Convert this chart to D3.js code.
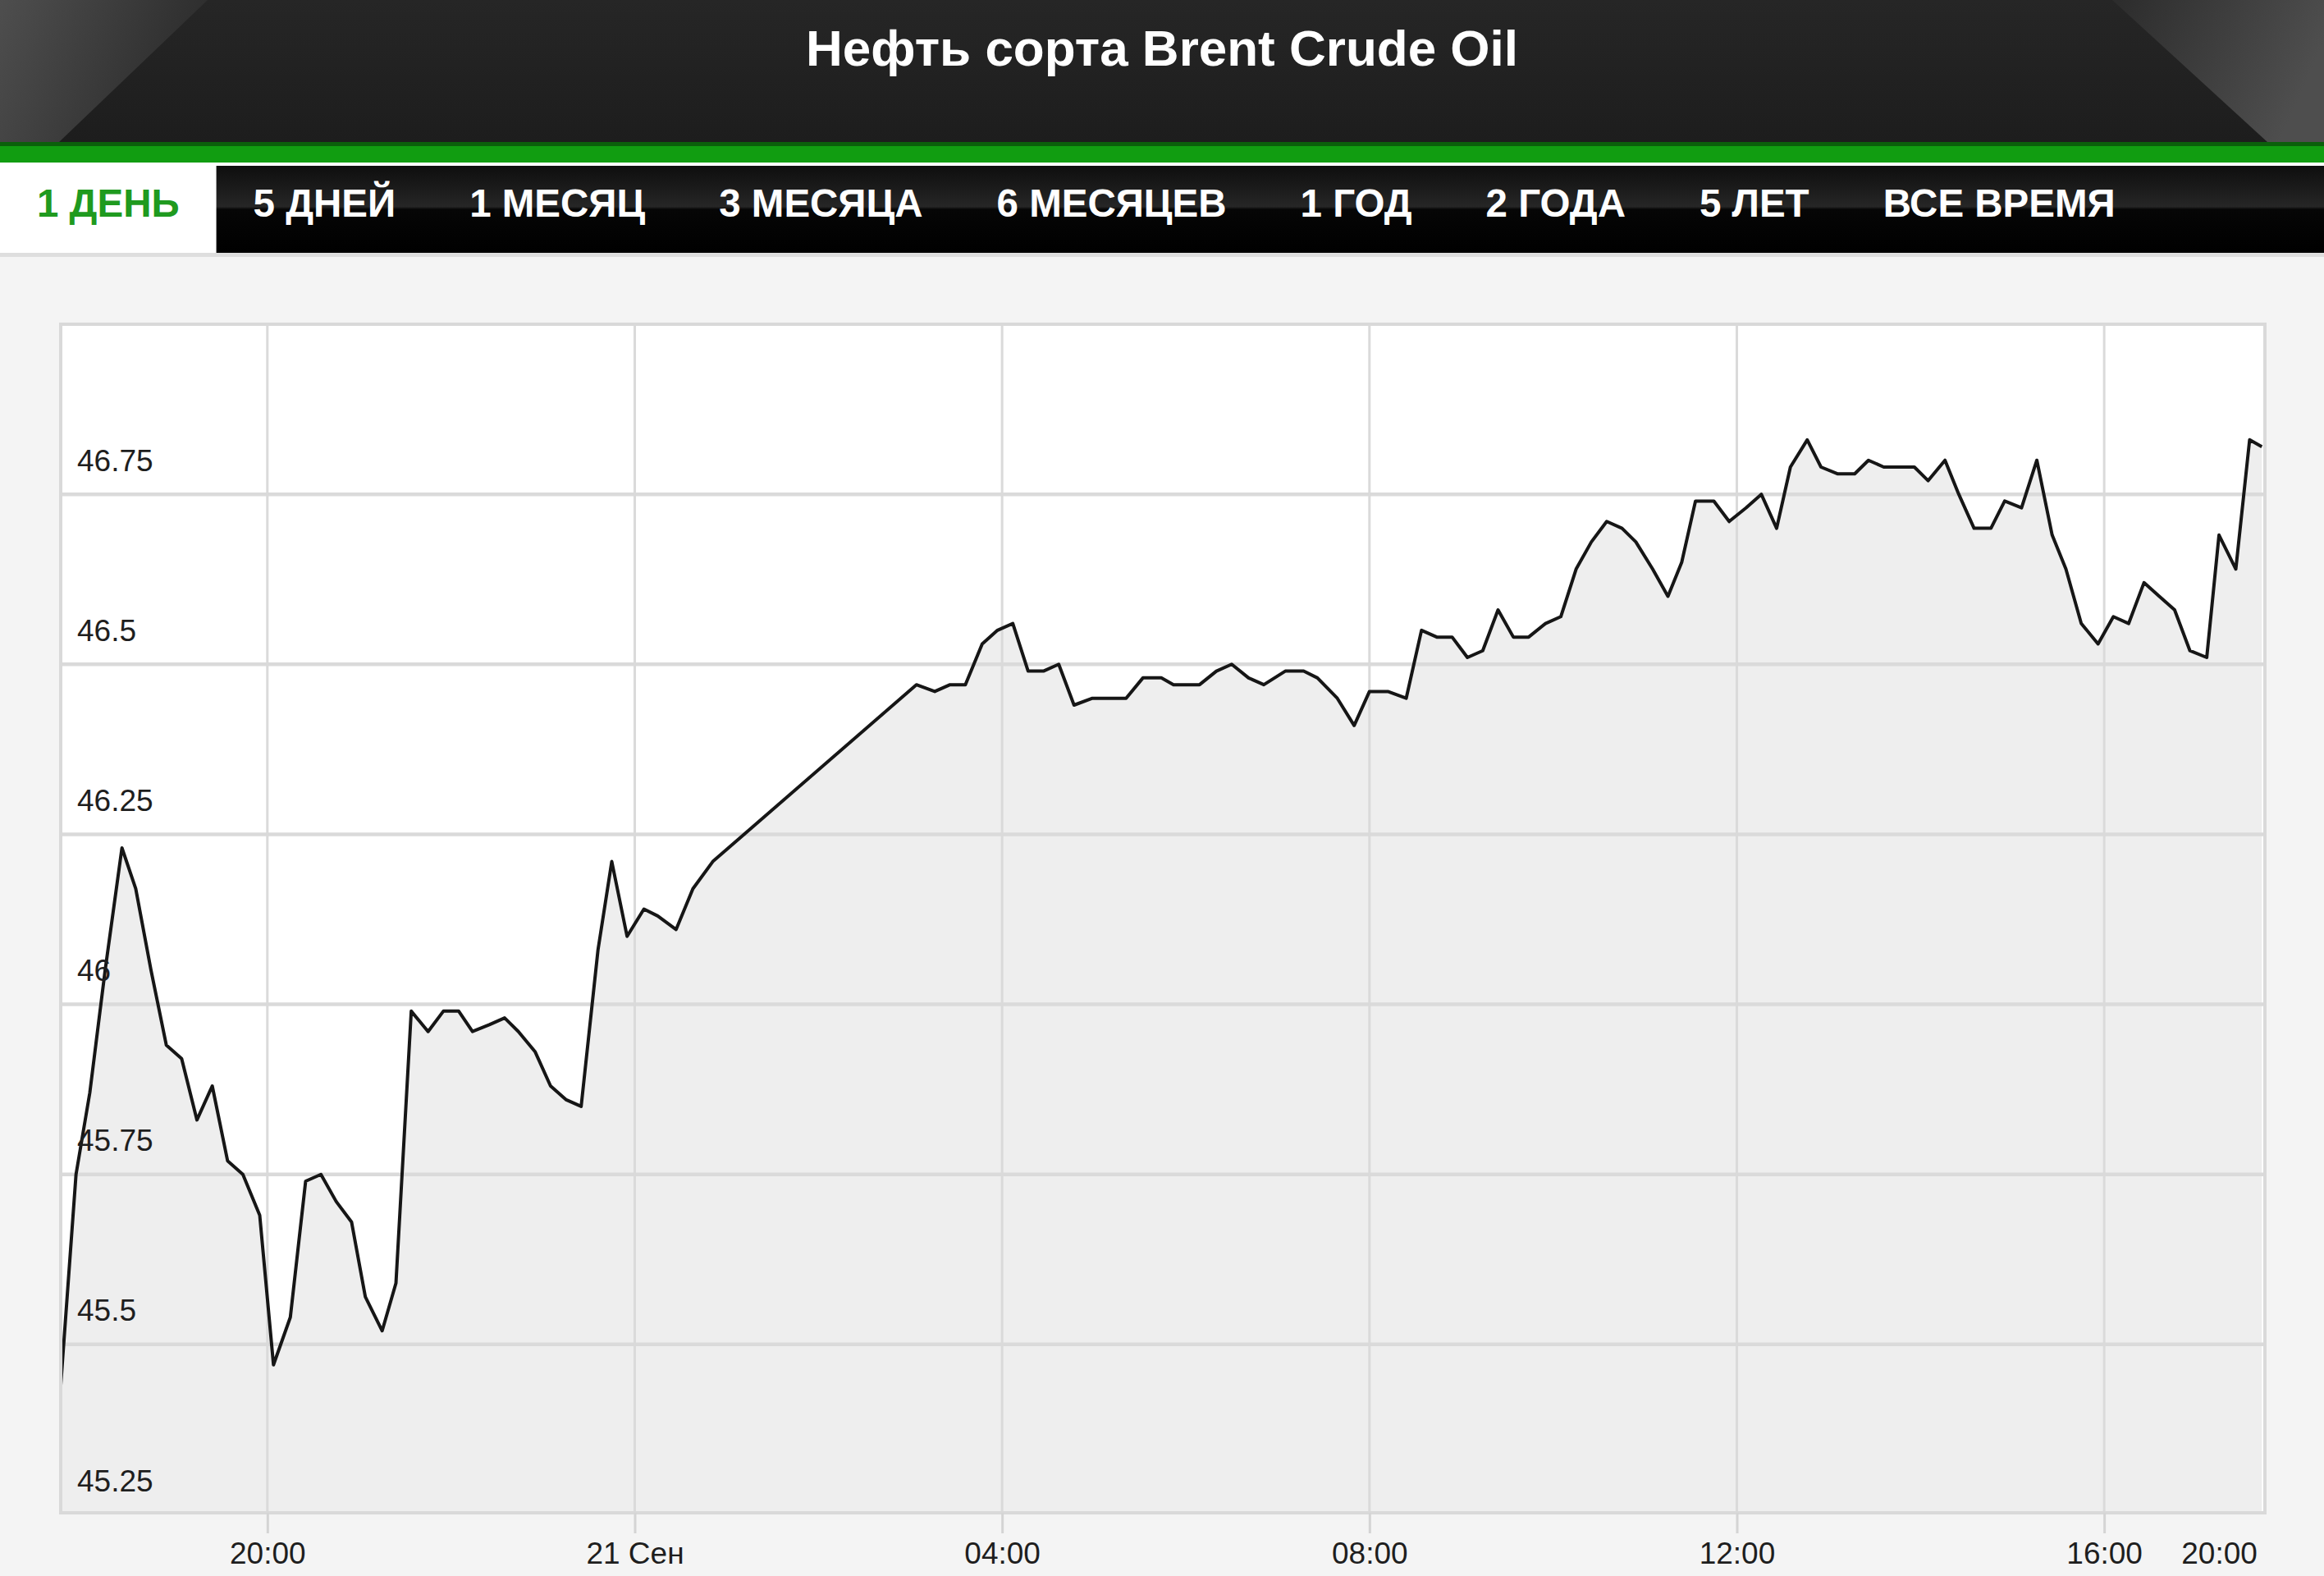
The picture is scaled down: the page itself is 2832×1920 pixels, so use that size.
<!DOCTYPE html>
<meta charset="utf-8">
<script src="https://d3js.org/d3.v7.min.js"></script>
<style>
  body { margin: 0; background: #f4f4f4; }
  svg { display: block; font-family: Arial, "Liberation Sans", sans-serif; }
</style>
<div id="chart"></div>
<script>

var title = "Нефть сорта Brent Crude Oil";
var periods = ["1 ДЕНЬ", "5 ДНЕЙ", "1 МЕСЯЦ", "3 МЕСЯЦА", "6 МЕСЯЦЕВ", "1 ГОД", "2 ГОДА", "5 ЛЕТ", "ВСЕ ВРЕМЯ"];
var activePeriod = "1 ДЕНЬ";

// price points (Sep 20 -> Sep 21)
var times = [
  "2016-09-20 17:45", "2016-09-20 17:55", "2016-09-20 18:04", "2016-09-20 18:14", "2016-09-20 18:25",
  "2016-09-20 18:34", "2016-09-20 18:44", "2016-09-20 18:54", "2016-09-20 19:04", "2016-09-20 19:14",
  "2016-09-20 19:24", "2016-09-20 19:34", "2016-09-20 19:44", "2016-09-20 19:55", "2016-09-20 20:04",
  "2016-09-20 20:15", "2016-09-20 20:25", "2016-09-20 20:35", "2016-09-20 20:45", "2016-09-20 20:55",
  "2016-09-20 21:04", "2016-09-20 21:15", "2016-09-20 21:24", "2016-09-20 21:34", "2016-09-20 21:45",
  "2016-09-20 21:55", "2016-09-20 22:05", "2016-09-20 22:14", "2016-09-20 22:25", "2016-09-20 22:35",
  "2016-09-20 22:44", "2016-09-20 22:55", "2016-09-20 23:05", "2016-09-20 23:15", "2016-09-20 23:25",
  "2016-09-20 23:36", "2016-09-20 23:45", "2016-09-20 23:55", "2016-09-21 00:06", "2016-09-21 00:15",
  "2016-09-21 00:27", "2016-09-21 00:38", "2016-09-21 00:51", "2016-09-21 03:04", "2016-09-21 03:16",
  "2016-09-21 03:26", "2016-09-21 03:36", "2016-09-21 03:47", "2016-09-21 03:57", "2016-09-21 04:07",
  "2016-09-21 04:17", "2016-09-21 04:27", "2016-09-21 04:37", "2016-09-21 04:47", "2016-09-21 04:59",
  "2016-09-21 05:11", "2016-09-21 05:21", "2016-09-21 05:32", "2016-09-21 05:44", "2016-09-21 05:52",
  "2016-09-21 06:09", "2016-09-21 06:20", "2016-09-21 06:30", "2016-09-21 06:41", "2016-09-21 06:51",
  "2016-09-21 07:05", "2016-09-21 07:17", "2016-09-21 07:26", "2016-09-21 07:39", "2016-09-21 07:50",
  "2016-09-21 08:00", "2016-09-21 08:12", "2016-09-21 08:24", "2016-09-21 08:34", "2016-09-21 08:44",
  "2016-09-21 08:54", "2016-09-21 09:04", "2016-09-21 09:14", "2016-09-21 09:24", "2016-09-21 09:34",
  "2016-09-21 09:44", "2016-09-21 09:55", "2016-09-21 10:05", "2016-09-21 10:15", "2016-09-21 10:25",
  "2016-09-21 10:35", "2016-09-21 10:45", "2016-09-21 10:54", "2016-09-21 11:05", "2016-09-21 11:15",
  "2016-09-21 11:24", "2016-09-21 11:33", "2016-09-21 11:45", "2016-09-21 11:55", "2016-09-21 12:06",
  "2016-09-21 12:16", "2016-09-21 12:26", "2016-09-21 12:35", "2016-09-21 12:46", "2016-09-21 12:55",
  "2016-09-21 13:06", "2016-09-21 13:17", "2016-09-21 13:26", "2016-09-21 13:36", "2016-09-21 13:46",
  "2016-09-21 13:56", "2016-09-21 14:05", "2016-09-21 14:16", "2016-09-21 14:25", "2016-09-21 14:35",
  "2016-09-21 14:46", "2016-09-21 14:55", "2016-09-21 15:06", "2016-09-21 15:16", "2016-09-21 15:26",
  "2016-09-21 15:35", "2016-09-21 15:45", "2016-09-21 15:56", "2016-09-21 16:06", "2016-09-21 16:16",
  "2016-09-21 16:26", "2016-09-21 16:36", "2016-09-21 16:46", "2016-09-21 16:56", "2016-09-21 17:07",
  "2016-09-21 17:15", "2016-09-21 17:26", "2016-09-21 17:35", "2016-09-21 17:43"
];

var prices = [
  45.44, 45.75, 45.87, 46.05, 46.23,
  46.17, 46.05, 45.94, 45.92, 45.83,
  45.88, 45.77, 45.75, 45.69, 45.47,
  45.54, 45.74, 45.75, 45.71, 45.68,
  45.57, 45.52, 45.59, 45.99, 45.96,
  45.99, 45.99, 45.96, 45.97, 45.98,
  45.96, 45.93, 45.88, 45.86, 45.85,
  46.08, 46.21, 46.10, 46.14, 46.13,
  46.11, 46.17, 46.21, 46.47, 46.46,
  46.47, 46.47, 46.53, 46.55, 46.56,
  46.49, 46.49, 46.50, 46.44, 46.45,
  46.45, 46.45, 46.48, 46.48, 46.47,
  46.47, 46.49, 46.50, 46.48, 46.47,
  46.49, 46.49, 46.48, 46.45, 46.41,
  46.46, 46.46, 46.45, 46.55, 46.54,
  46.54, 46.51, 46.52, 46.58, 46.54,
  46.54, 46.56, 46.57, 46.64, 46.68,
  46.71, 46.70, 46.68, 46.64, 46.60,
  46.65, 46.74, 46.74, 46.71, 46.73,
  46.75, 46.70, 46.79, 46.83, 46.79,
  46.78, 46.78, 46.80, 46.79, 46.79,
  46.79, 46.77, 46.80, 46.75, 46.70,
  46.70, 46.74, 46.73, 46.80, 46.69,
  46.64, 46.56, 46.53, 46.57, 46.56,
  46.62, 46.60, 46.58, 46.52, 46.51,
  46.69, 46.64, 46.83, 46.82
];

var xDomain = ["2016-09-20 17:45", "2016-09-21 17:45"];
var yDomain = [45.25, 47];
var yTicks = [46.75, 46.5, 46.25, 46, 45.75, 45.5, 45.25];
var xTickTimes = ["2016-09-20 20:00", "2016-09-21 00:00", "2016-09-21 04:00", "2016-09-21 08:00",
                  "2016-09-21 12:00", "2016-09-21 16:00", "2016-09-21 17:15"];
var xTickLabels = ["20:00", "21 Сен", "04:00", "08:00", "12:00", "16:00", "20:00"];
var xGridCount = 6;   // last label has no grid line / tick

var W = 2832, H = 1920;
var plot = {left: 74, top: 395, right: 2760, bottom: 1843};

var parse = d3.timeParse("%Y-%m-%d %H:%M");
var data = times.map(function(t, i) { return {date: parse(t), value: prices[i]}; });

var svg = d3.select("#chart").append("svg")
    .attr("width", W)
    .attr("height", H);

var defs = svg.append("defs");

function grad(id, x2, y2, stops) {
  var g = defs.append("linearGradient").attr("id", id)
    .attr("x1", 0).attr("y1", 0).attr("x2", x2).attr("y2", y2);
  stops.forEach(function(s) {
    g.append("stop").attr("offset", s[0]).attr("stop-color", s[1]);
  });
}
grad("hdr", 0, 1, [["0%", "#262626"], ["100%", "#1d1d1d"]]);
grad("wedgeL", 1, 0.3, [["0%", "#4e4e4e"], ["100%", "#2c2c2c"]]);
grad("wedgeR", 1, 0.3, [["0%", "#2c2c2c"], ["100%", "#4e4e4e"]]);
grad("nav", 0, 1, [["0%", "#0e0e0e"], ["47%", "#262626"], ["50%", "#060606"], ["100%", "#000"]]);

// page background
svg.append("rect").attr("width", W).attr("height", H).attr("fill", "#f4f4f4");

// header band
svg.append("rect").attr("width", W).attr("height", 173).attr("fill", "url(#hdr)");
svg.append("polygon").attr("points", "0,0 253,0 72,173 0,173").attr("fill", "url(#wedgeL)");
svg.append("polygon").attr("points", "2574,0 2832,0 2832,173 2763,173").attr("fill", "url(#wedgeR)");

svg.append("text")
    .attr("x", W / 2)
    .attr("y", 80)
    .attr("text-anchor", "middle")
    .attr("fill", "#fff")
    .style("font-size", "62px")
    .style("font-weight", "bold")
    .text(title);

// green stripe
svg.append("rect").attr("y", 173).attr("width", W).attr("height", 5).attr("fill", "#0b5f0b");
svg.append("rect").attr("y", 178).attr("width", W).attr("height", 20).attr("fill", "#119d11");
svg.append("rect").attr("y", 198).attr("width", W).attr("height", 4).attr("fill", "#fff");

// period tabs
svg.append("rect").attr("y", 202).attr("width", W).attr("height", 106).attr("fill", "url(#nav)");
svg.append("rect").attr("y", 308).attr("width", W).attr("height", 5).attr("fill", "#dedede");

var navG = svg.append("g");
var cursor = 0, pad = 45;
periods.forEach(function(p) {
  var active = p === activePeriod;
  var bg = navG.append("rect").attr("y", 202).attr("height", 106)
      .attr("fill", active ? "#fff" : "none");
  var t = navG.append("text")
      .attr("y", 264)
      .attr("fill", active ? "#1f9a1f" : "#fff")
      .style("font-size", "47.5px")
      .style("font-weight", "bold")
      .text(p);
  var w = t.node().getComputedTextLength();
  t.attr("x", cursor + pad);
  bg.attr("x", cursor).attr("width", w + 2 * pad);
  cursor += w + 2 * pad;
});

// scales
var x = d3.scaleTime()
    .domain(xDomain.map(parse))
    .range([plot.left, plot.right]);

var y = d3.scaleLinear()
    .domain(yDomain)
    .range([1845, plot.top]);

// plot box
svg.append("rect")
    .attr("x", plot.left).attr("y", plot.top)
    .attr("width", plot.right - plot.left)
    .attr("height", plot.bottom - plot.top)
    .attr("fill", "#fff");

svg.append("clipPath").attr("id", "clip")
  .append("rect")
    .attr("x", plot.left).attr("y", plot.top)
    .attr("width", plot.right - plot.left)
    .attr("height", plot.bottom - plot.top);

var plotG = svg.append("g").attr("clip-path", "url(#clip)");

plotG.append("path")
    .datum(data)
    .attr("fill", "#eeeeee")
    .attr("d", d3.area()
      .x(function(d) { return x(d.date); })
      .y0(plot.bottom)
      .y1(function(d) { return y(d.value); }));

// grid
plotG.selectAll(".hgrid")
  .data(yTicks)
  .enter().append("line")
    .attr("x1", plot.left).attr("x2", plot.right)
    .attr("y1", function(d) { return y(d); })
    .attr("y2", function(d) { return y(d); })
    .attr("stroke", "#dadada")
    .attr("stroke-width", 4.5);

plotG.selectAll(".vgrid")
  .data(xTickTimes.slice(0, xGridCount))
  .enter().append("line")
    .attr("x1", function(d) { return x(parse(d)); })
    .attr("x2", function(d) { return x(parse(d)); })
    .attr("y1", plot.top).attr("y2", plot.bottom)
    .attr("stroke", "#dadada")
    .attr("stroke-width", 3);

plotG.append("path")
    .datum(data)
    .attr("fill", "none")
    .attr("stroke", "#161616")
    .attr("stroke-width", 4)
    .attr("stroke-linejoin", "round")
    .attr("d", d3.line()
      .x(function(d) { return x(d.date); })
      .y(function(d) { return y(d.value); }));

// frame
svg.append("rect")
    .attr("x", plot.left).attr("y", plot.top)
    .attr("width", plot.right - plot.left)
    .attr("height", plot.bottom - plot.top)
    .attr("fill", "none")
    .attr("stroke", "#d9d9d9")
    .attr("stroke-width", 4);

// y labels inside the plot, above their grid line
var yAxis = svg.append("g")
    .attr("transform", "translate(" + plot.left + ",0)")
    .call(d3.axisRight(y).tickValues(yTicks).tickSize(0).tickPadding(20)
      .tickFormat(function(d) { return String(d); }));
yAxis.select(".domain").remove();
yAxis.selectAll("text")
    .attr("dy", null)
    .attr("y", -29)
    .attr("fill", "#1e1e1e")
    .style("font-size", "37px")
    .style("font-family", "Arial, 'Liberation Sans', sans-serif");

// x axis
var xAxis = svg.append("g")
    .attr("transform", "translate(0," + plot.bottom + ")")
    .call(d3.axisBottom(x).tickValues(xTickTimes.map(parse)).tickSize(25).tickPadding(10)
      .tickFormat(function(d, i) { return xTickLabels[i]; }));
xAxis.select(".domain").remove();
xAxis.selectAll(".tick line")
    .attr("stroke", "#d4d4d4")
    .attr("stroke-width", 3)
    .attr("opacity", function(d, i) { return i < xGridCount ? 1 : 0; });
xAxis.selectAll("text")
    .attr("dy", null)
    .attr("y", 62)
    .attr("fill", "#1e1e1e")
    .style("font-size", "37px")
    .style("font-family", "Arial, 'Liberation Sans', sans-serif");

</script>
